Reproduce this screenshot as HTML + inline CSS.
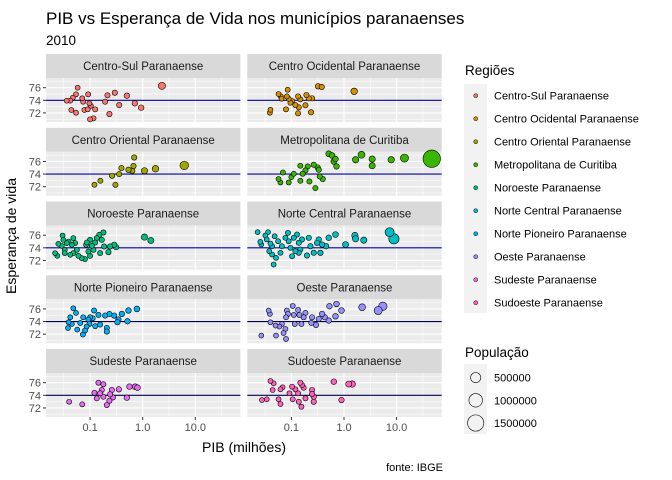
<!DOCTYPE html>
<html><head><meta charset="utf-8">
<style>
html,body{margin:0;padding:0;background:#fff;}
svg{display:block;font-family:"Liberation Sans",Arial,sans-serif;}
</style></head>
<body>
<svg id="chart" width="672" height="480" viewBox="0 0 672 480" xmlns="http://www.w3.org/2000/svg">
<text x="46" y="24" font-size="17" fill="#000">PIB vs Esperança de Vida nos municípios paranaenses</text>
<text x="46" y="45" font-size="13.5" fill="#000">2010</text>
<text transform="translate(16,236) rotate(-90)" text-anchor="middle" font-size="14" fill="#000">Esperança de vida</text>
<text x="244" y="452" text-anchor="middle" font-size="14" fill="#000">PIB (milhões)</text>
<text x="443" y="471" text-anchor="end" font-size="11" fill="#000">fonte: IBGE</text>
<g id="panels"></g>
<g id="legend"></g>
</svg>
<script>
const regionNames = ["Centro-Sul Paranaense","Centro Ocidental Paranaense","Centro Oriental Paranaense","Metropolitana de Curitiba","Noroeste Paranaense","Norte Central Paranaense","Norte Pioneiro Paranaense","Oeste Paranaense","Sudeste Paranaense","Sudoeste Paranaense"];
const regionColors = ["#F8766D","#D89000","#A3A500","#39B600","#00BF7D","#00BFC4","#00B0F6","#9590FF","#E76BF3","#FF62BC"];
const xTicks = [0.1, 1, 10];
const xTickLabels = ["0.1","1.0","10.0"];
const yTicks = [72, 74, 76];
const yTickLabels = ["72","74","76"];
const refLine = 74;
const popLegend = [500000, 1000000, 1500000];

const pib_cs = [0.036,0.042,0.047,0.054,0.058,0.044,0.054,0.071,0.074,0.078,0.092,0.097,0.103,0.090,0.1,0.116,0.125,0.193,0.214,0.233,0.295,0.357,0.5,0.71,0.935,2.32];
const vida_cs = [73.94,73.94,74.41,74.95,76.0,72.46,72.03,74.32,73.78,72.46,74.95,73.52,73.14,72.57,70.98,71.14,72.57,73.78,74.79,71.83,75.2,73.25,74.73,73.52,72.83,76.3];
const pop_cs = [5000,6000,7000,8000,6000,7000,8000,9000,12000,13000,14000,12000,15000,13000,15000,18000,17000,22000,25000,28000,30000,35000,40000,50000,48000,170000];

const pib_co = [0.039,0.040,0.057,0.063,0.065,0.085,0.082,0.089,0.096,0.079,0.103,0.119,0.138,0.134,0.148,0.134,0.185,0.193,0.214,0.247,0.236,0.321,0.378,1.56];
const vida_co = [72.03,72.5,75.0,74.63,74.25,75.68,74.63,74.25,73.62,72.57,73.9,73.25,72.89,74.63,74.16,71.94,73.2,74.84,74.32,74.32,72.1,76.22,76.11,75.43];
const pop_co = [6000,5000,7000,8000,6000,9000,12000,13000,15000,14000,16000,18000,20000,17000,19000,21000,24000,25000,27000,30000,32000,35000,33000,120000];

const pib_cor = [0.121,0.157,0.262,0.303,0.357,0.394,0.537,0.631,0.668,0.689,1.08,1.75,6.17];
const vida_cor = [72.3,72.94,73.73,72.3,74.0,74.95,74.68,74.52,75.27,76.63,74.52,74.84,75.37];
const pop_cor = [12000,16000,25000,22000,28000,30000,40000,45000,35000,30000,100000,120000,311000];

const pib_met = [0.057,0.062,0.069,0.089,0.1,0.111,0.148,0.148,0.164,0.185,0.204,0.22,0.266,0.286,0.316,0.331,0.346,0.394,0.513,0.593,0.64,0.689,0.72,1.66,2.15,3.43,3.43,7.89,14.1,46.5];
const vida_met = [73.21,72.67,74.25,72.67,73.52,74.05,75.32,72.94,74.05,74.57,75.21,72.83,75.48,71.78,75.05,74.68,73.62,73.21,77.22,76.95,76.0,76.38,75.21,76.27,77.06,76.38,75.32,76.27,76.54,76.43];
const pop_met = [8000,9000,10000,12000,14000,13000,20000,18000,22000,25000,27000,24000,30000,26000,32000,30000,28000,33000,70000,60000,55000,50000,45000,100000,150000,100000,90000,110000,260000,1750000];

const pib_nor = [0.0216,0.0238,0.0249,0.030,0.031,0.029,0.033,0.033,0.036,0.039,0.042,0.045,0.048,0.048,0.052,0.056,0.060,0.069,0.080,0.084,0.087,0.093,0.1,0.1,0.108,0.116,0.125,0.134,0.150,0.155,0.167,0.179,0.185,0.223,0.24,0.287,0.313,1.08,1.43];
const vida_nor = [73.16,72.73,74.63,75.95,75.27,74.32,73.68,73.16,74.75,75.0,72.89,74.48,75.54,73.16,74.75,73.68,72.73,72.37,72.21,74.48,74.84,73.41,75.27,72.73,74.32,73.68,74.84,75.54,76.06,73.16,75.27,76.43,74.21,73.32,74.21,74.48,74.11,75.7,75.16];
const pop_nor = [3000,3500,4000,5000,5000,4500,6000,5500,6000,7000,7000,8000,10000,9000,10000,11000,12000,14000,16000,15000,14000,16000,18000,20000,17000,19000,20000,22000,24000,23000,25000,28000,26000,30000,32000,35000,38000,100000,85000];

const pib_nc = [0.0228,0.0257,0.0268,0.032,0.034,0.036,0.040,0.038,0.043,0.043,0.046,0.048,0.051,0.056,0.062,0.066,0.077,0.086,0.089,0.096,0.103,0.111,0.119,0.128,0.138,0.138,0.148,0.159,0.198,0.214,0.230,0.266,0.308,0.331,0.356,0.383,0.456,0.513,0.689,1.07,1.61,1.66,2.38,7.36,8.89];
const vida_nc = [76.48,74.95,74.52,75.95,75.32,76.48,74.68,73.46,72.94,74.25,71.35,75.84,72.41,75.05,73.21,74.25,75.59,76.38,75.05,74.0,72.67,75.59,73.46,76.11,74.79,73.21,73.73,75.32,72.78,75.59,74.25,73.21,74.79,75.32,73.21,74.52,74.25,75.59,76.11,74.52,75.95,75.43,75.21,76.48,75.43];
const pop_nc = [3000,3500,4000,5000,5000,5500,6000,6000,7000,7000,7500,8000,9000,10000,11000,12000,13000,14000,14000,15000,16000,17000,18000,20000,21000,20000,22000,24000,26000,28000,30000,32000,35000,36000,38000,40000,45000,50000,60000,80000,100000,100000,90000,360000,510000];

const pib_np = [0.039,0.038,0.042,0.045,0.048,0.054,0.057,0.065,0.073,0.074,0.080,0.086,0.093,0.097,0.1,0.112,0.119,0.125,0.144,0.155,0.208,0.208,0.193,0.233,0.287,0.331,0.346,0.402,0.513,0.537,0.776];
const vida_np = [73.89,72.98,74.68,73.62,76.11,75.37,72.73,73.78,71.94,74.68,72.57,73.21,74.32,73.62,74.68,74.52,75.75,73.27,75.05,73.52,72.98,72.41,74.95,75.21,74.95,73.89,74.32,75.21,74.05,75.75,76.0];
const pop_np = [4000,4000,5000,5000,6000,7000,8000,9000,11000,10000,12000,13000,14000,14000,15000,16000,17000,18000,20000,21000,26000,25000,24000,28000,32000,35000,36000,40000,45000,46000,60000];

const pib_oe = [0.0268,0.037,0.039,0.040,0.050,0.051,0.059,0.066,0.071,0.079,0.079,0.082,0.086,0.077,0.106,0.111,0.116,0.134,0.142,0.155,0.171,0.185,0.247,0.240,0.294,0.331,0.383,0.431,0.513,0.529,0.689,0.72,0.896,2.21,4.47,5.48];
const vida_oe = [71.78,75.75,75.21,73.89,73.37,71.78,73.21,73.62,72.19,71.24,74.68,75.75,75.21,72.83,76.48,75.05,73.62,75.84,75.05,73.62,74.68,75.37,74.68,73.78,73.46,74.41,75.21,74.68,74.16,76.43,74.84,76.79,75.75,76.27,75.75,76.43];
const pop_oe = [3000,4000,4500,5000,6000,5500,7000,8000,8000,9000,9000,10000,10000,9000,12000,13000,14000,16000,16000,18000,19000,21000,25000,24000,28000,30000,34000,36000,40000,42000,50000,52000,60000,140000,260000,290000];

const pib_se = [0.040,0.071,0.121,0.134,0.144,0.155,0.167,0.179,0.179,0.208,0.233,0.24,0.259,0.271,0.352,0.5,0.561,0.72,0.796];
const vida_se = [72.98,72.57,74.41,73.52,76.0,74.32,74.84,75.75,73.78,72.46,73.14,74.16,74.84,73.68,74.95,73.62,75.37,75.37,75.21];
const pop_se = [5000,10000,16000,17000,15000,18000,19000,20000,21000,24000,26000,27000,28000,30000,35000,45000,50000,60000,55000];

const pib_so = [0.0275,0.034,0.040,0.046,0.044,0.057,0.062,0.062,0.068,0.092,0.103,0.106,0.119,0.134,0.138,0.148,0.155,0.159,0.171,0.185,0.247,0.247,0.266,0.266,0.64,0.896,1.23,1.43];
const vida_so = [73.25,73.37,76.27,75.9,74.84,73.37,72.62,74.95,75.27,74.32,75.37,73.37,74.95,74.32,72.98,76.0,72.19,75.63,75.21,73.52,74.84,74.21,72.98,73.78,76.16,73.25,75.79,75.79];
const pop_so = [3000,3500,4000,5000,4500,6000,7000,6000,7000,10000,12000,11000,13000,15000,14000,16000,17000,18000,19000,20000,26000,25000,28000,27000,50000,40000,80000,110000];

const regionPib = [pib_cs,pib_co,pib_cor,pib_met,pib_nor,pib_nc,pib_np,pib_oe,pib_se,pib_so];
const regionVida = [vida_cs,vida_co,vida_cor,vida_met,vida_nor,vida_nc,vida_np,vida_oe,vida_se,vida_so];
const regionPop = [pop_cs,pop_co,pop_cor,pop_met,pop_nor,pop_nc,pop_np,pop_oe,pop_se,pop_so];

const NS = "http://www.w3.org/2000/svg";
function mk(tag, attrs, parent){ const e=document.createElementNS(NS,tag); for(const k in attrs) e.setAttribute(k,attrs[k]); if(parent) parent.appendChild(e); return e; }

const colLeft = [46, 247.3];
const panelW = 194.4, panelH = 44, stripH = 24;
const rowTop0 = 78, rowPitch = 73.75;
const xLogMin = -1.838, xLogMax = 1.857;
const yMin = 70.56, yMax = 77.54;
function xScale(v, left){ return left + (Math.log10(v)-xLogMin)/(xLogMax-xLogMin)*panelW; }
function yScale(v, top){ return top + (yMax - v)/(yMax-yMin)*panelH; }
function rScale(p){ return Math.sqrt(6 + 40*p/1e6); }

const panels = document.getElementById('panels');
for(let i=0;i<regionNames.length;i++){
  const col = i%2, row = Math.floor(i/2);
  const left = colLeft[col], top = rowTop0 + row*rowPitch;
  const g = mk('g',{},panels);
  
  
  const strip = mk('rect',{x:left,y:top-stripH,width:panelW,height:stripH,fill:'#D9D9D9'},g);
  
  
  const st = mk('text',{x:left+panelW/2,y:top-stripH/2+4,'text-anchor':'middle','font-size':'11.5',fill:'#1A1A1A'},g);
  st.textContent = regionNames[i];
  
  
  const bg = mk('rect',{x:left,y:top,width:panelW,height:panelH,fill:'#EBEBEB'},g);
  
  
  for(let m=-1.5;m<=1.5;m+=1){
    const x = xScale(Math.pow(10,m),left);
    mk('line',{x1:x,x2:x,y1:top,y2:top+panelH,stroke:'#fff','stroke-width':0.55},g);
  }
  for(let m=71;m<=77;m+=2){
    const y = yScale(m,top);
    mk('line',{x1:left,x2:left+panelW,y1:y,y2:y,stroke:'#fff','stroke-width':0.55},g);
  }
  xTicks.forEach(t=>{ const x=xScale(t,left); mk('line',{x1:x,x2:x,y1:top,y2:top+panelH,stroke:'#fff','stroke-width':1.1},g); });
  yTicks.forEach(t=>{ const y=yScale(t,top); mk('line',{x1:left,x2:left+panelW,y1:y,y2:y,stroke:'#fff','stroke-width':1.1},g); });
  const yr = yScale(refLine,top);
  const hl = mk('line',{x1:left,x2:left+panelW,y1:yr,y2:yr,stroke: row<3?'#0000A0':'#000050','stroke-width':1.1},g);
  
  
  if(col===0){
    yTicks.forEach((t,k)=>{ const y=yScale(t,top);
      mk('line',{x1:left-3,x2:left,y1:y,y2:y,stroke:'#333','stroke-width':1},g);
      const tl = mk('text',{x:left-5,y:y+4,'text-anchor':'end','font-size':'11',fill:'#4D4D4D'},g);
      tl.textContent = yTickLabels[k];
      
      
    });
  }
  if(row===4){
    xTicks.forEach((t,k)=>{ const x=xScale(t,left);
      mk('line',{x1:x,x2:x,y1:top+panelH,y2:top+panelH+3,stroke:'#333','stroke-width':1},g);
      const tl = mk('text',{x:x,y:top+panelH+14,'text-anchor':'middle','font-size':'11',fill:'#4D4D4D'},g);
      tl.textContent = xTickLabels[k];
      
      
    });
  }
  const pib = regionPib[i], vida = regionVida[i], pop = regionPop[i];
  const order = pib.map((_,k)=>k).sort((a,b)=>pop[b]-pop[a]);
  order.forEach(k=>{
    const c = mk('circle',{cx:xScale(pib[k],left),cy:yScale(vida[k],top),r:rScale(pop[k]),fill:regionColors[i],stroke:'#000','stroke-width':0.6},g);
    
    
  });
}

const legend = document.getElementById('legend');
const lt = mk('text',{x:465,y:75,'font-size':'13.5',fill:'#000'},legend);
lt.textContent = 'Regiões';


mk('rect',{x:464,y:84,width:23,height:229,fill:'#F2F2F2'},legend);
regionNames.forEach((n,k)=>{
  const y = 95.7 + k*23;
  const e = mk('g',{},legend);
  
  
  mk('circle',{cx:475.7,cy:y,r:2,fill:regionColors[k],stroke:'#000','stroke-width':0.5},e);
  const t = mk('text',{x:494,y:y+4,'font-size':'11',fill:'#000'},e);
  t.textContent = n;
});
const pt = mk('text',{x:465,y:357,'font-size':'13.5',fill:'#000'},legend);
pt.textContent = 'População';


mk('rect',{x:464,y:364,width:23,height:70,fill:'#F2F2F2'},legend);
popLegend.forEach((p,k)=>{
  const y = 377.6 + k*22.7;
  const e = mk('g',{},legend);
  
  
  mk('circle',{cx:475.7,cy:y,r:rScale(p),fill:'none',stroke:'#000','stroke-width':0.6},e);
  const t = mk('text',{x:494,y:y+4,'font-size':'11',fill:'#000'},e);
  t.textContent = String(p);
});
</script>
</body></html>
